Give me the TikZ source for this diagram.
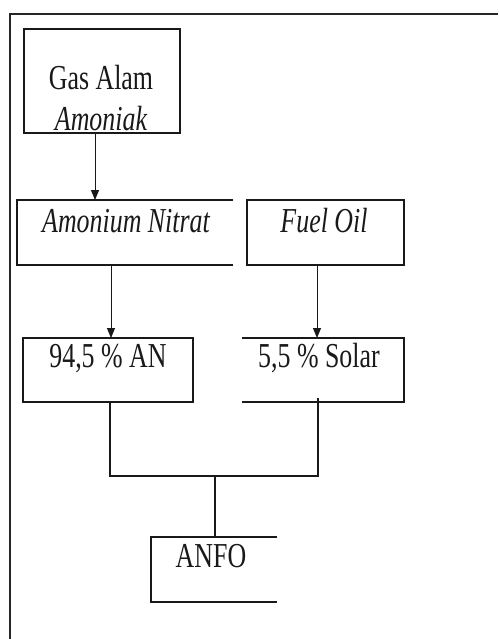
\documentclass[tikz,border=0pt]{standalone}
\usepackage{fontspec}
\setmainfont{Liberation Serif}[FakeStretch=0.74]
\usetikzlibrary{arrows.meta}
\begin{document}
\begin{tikzpicture}[x=1pt,y=-1pt,
  box/.style={inner sep=0pt,outer sep=0pt},
  edge/.style={line width=1.4pt,black!90},
  lbl/.style={inner sep=0pt,anchor=base,font=\fontsize{35}{40}\selectfont,text=black!90},
  arr/.style={line width=0.9pt,black!90,-{Triangle[length=10pt,width=8pt]}},
  con/.style={line width=1.1pt,black!90}]
\useasboundingbox (0,0) rectangle (498,639);
% frame
\draw[line width=1.4pt,black!85] (10,639) -- (10,14) -- (498,14);
% boxes
\node[box,minimum width=156pt,minimum height=104pt] (gas) at (102,81) {};
\node[box,minimum width=216pt,minimum height=65pt] (nitrat) at (125,232.5) {};
\node[box,minimum width=157pt,minimum height=65pt] (fuel) at (325.5,232.5) {};
\node[box,minimum width=170pt,minimum height=64pt] (an) at (108,370) {};
\node[box,minimum width=162pt,minimum height=64pt] (solar) at (323,370) {};
\node[box,minimum width=126pt,minimum height=65pt] (anfo) at (214,569.5) {};
\draw[edge] (gas.north west) rectangle (gas.south east);
\draw[edge] (nitrat.north east) -- (nitrat.north west) -- (nitrat.south west) -- (nitrat.south east);
\draw[edge] (fuel.north west) rectangle (fuel.south east);
\draw[edge] (an.north west) rectangle (an.south east);
\draw[edge] (solar.north west) -- (solar.north east) -- (solar.south east) -- (solar.south west);
\draw[edge] (anfo.north east) -- (anfo.north west) -- (anfo.south west) -- (anfo.south east);
% labels
\node[lbl] (t1) at (101,90) {Gas Alam};
\node[lbl] (t2) at (101,131) {\itshape Amoniak};
\node[lbl] (t3) at (126,232) {\itshape Amonium Nitrat};
\node[lbl] (t4) at (324,232) {\itshape Fuel Oil};
\node[lbl] (t5) at (108,367) {94,5 \% AN};
\node[lbl] (t6) at (319,367) {5,5 \% Solar};
\node[lbl] (t7) at (211,567) {ANFO};
% arrows
\draw[arr] ([xshift=-7pt]gas.south) -- ([xshift=-7pt]gas.south |- nitrat.north);
\draw[arr] ([xshift=-14pt]nitrat.south) -- ([xshift=-14pt]nitrat.south |- an.north);
\draw[arr] ([xshift=-8.5pt]fuel.south) -- ([xshift=-8.5pt]fuel.south |- solar.north);
% merge
\coordinate (j) at (215,476);
\draw[con] ([xshift=2pt]an.south) -- ([xshift=2pt]an.south |- j) -- ([xshift=-5pt]solar.south |- j) -- ([xshift=-5pt,yshift=4pt]solar.south);
\draw[con] (j) -- (j |- anfo.north);
\end{tikzpicture}
\end{document}
